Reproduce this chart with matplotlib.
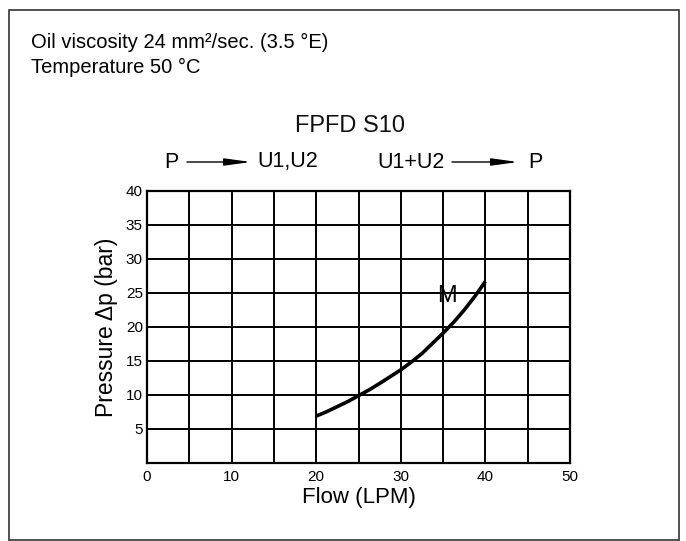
import numpy as np
import matplotlib.pyplot as plt
from matplotlib.patches import Rectangle

plt.rcParams['font.family'] = ['Liberation Sans', 'DejaVu Sans']

# curve M
flow = [20, 21.25, 22.5, 23.75, 25, 26.25, 27.5, 28.75, 30,
        31.25, 32.5, 33.75, 35, 36.25, 37.5, 38.75, 40]
pressure = [6.9, 7.55, 8.3, 9.05, 9.9, 10.75, 11.7, 12.7, 13.7,
            14.85, 16.1, 17.6, 19.1, 20.7, 22.5, 24.5, 26.7]

x_ticks = [0, 10, 20, 30, 40, 50]
y_ticks = [5, 10, 15, 20, 25, 30, 35, 40]
grid_step = 5

fig = plt.figure(figsize=(6.86, 5.41), dpi=100)
W, H = 686, 541


def fx(px):
    return px / W


def fy(py):
    return 1 - py / H


# outer frame
fig.patches.append(Rectangle((fx(9), fy(540)), fx(670), 530 / H, transform=fig.transFigure,
                             fill=False, edgecolor='#333333', linewidth=1.2))

fig.text(fx(31), fy(42), 'Oil viscosity 24 mm²/sec. (3.5 °E)', fontsize=14.5, va='center')
fig.text(fx(31), fy(67), 'Temperature 50 °C', fontsize=14.5, va='center')

fig.text(fx(350), fy(126), 'FPFD S10', fontsize=17, ha='center', va='center', color='#111111')

# flow direction labels
fs = 15.5
fig.text(fx(171), fy(162), 'P', fontsize=fs, ha='center', va='center')
fig.text(fx(288), fy(162), 'U1,U2', fontsize=fs, ha='center', va='center')
fig.text(fx(411), fy(162), 'U1+U2', fontsize=fs, ha='center', va='center')
fig.text(fx(535), fy(162), 'P', fontsize=fs, ha='center', va='center')
for x0, x1 in [(187, 251), (452, 518)]:
    fig.add_artist(plt.Annotation('', xy=(fx(x1), fy(162)), xytext=(fx(x0), fy(162)),
                                  xycoords='figure fraction', textcoords='figure fraction',
                                  arrowprops=dict(arrowstyle='-|>,head_length=1.6,head_width=0.22',
                                                  color='black', lw=1.0, shrinkA=0, shrinkB=0)))

ax = fig.add_axes([fx(147), fy(463), fx(570 - 147), (463 - 191) / H])
ax.set_xlim(0, 50)
ax.set_ylim(0, 40)

for v in np.arange(grid_step, 50, grid_step):
    ax.axvline(v, color='black', linewidth=1.4)
for v in np.arange(grid_step, 40, grid_step):
    ax.axhline(v, color='black', linewidth=1.4)

ax.plot(flow, pressure, color='black', linewidth=2.6, solid_capstyle='butt')
ax.text(35.5, 24.6, 'M', fontsize=17, ha='center', va='center')

ax.set_xticks(x_ticks)
ax.set_yticks(y_ticks)
ax.set_xticklabels([str(t) for t in x_ticks], fontsize=11)
ax.set_yticklabels([str(t) for t in y_ticks], fontsize=11)
ax.tick_params(axis='x', length=0, pad=5)
ax.tick_params(axis='y', length=0, pad=3)
for s in ax.spines.values():
    s.set_linewidth(1.6)

ax.set_xlabel('Flow (LPM)', fontsize=16, labelpad=2)
ax.set_ylabel('Pressure Δp (bar)', fontsize=16.5, labelpad=6)

fig.savefig('out.png', dpi=100)
